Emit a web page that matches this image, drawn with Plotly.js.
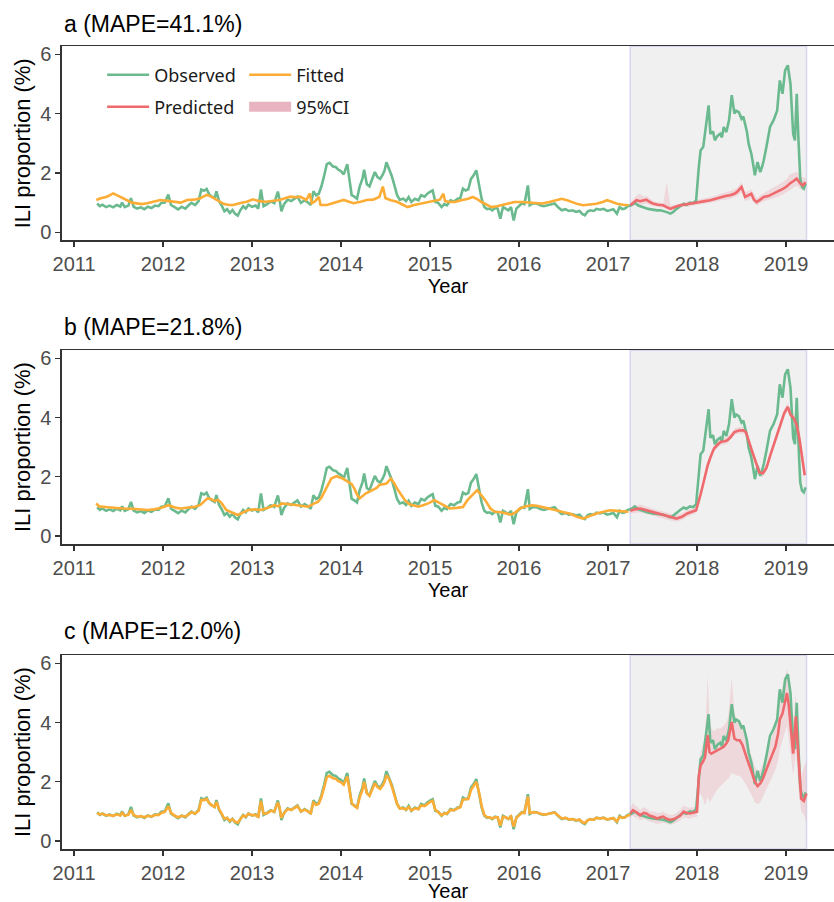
<!DOCTYPE html>
<html><head><meta charset="utf-8">
<script src="https://cdn.plot.ly/plotly-3.0.1.min.js"></script>
<style>body{margin:0;background:#fff}#chart{width:834px;height:902px}</style>
</head><body><div id="chart"></div>
<script>
// ---------- Observed (same in all panels) ----------
const t2011=[2011.26,2011.29,2011.32,2011.36,2011.40,2011.44,2011.48,2011.52,2011.54,2011.57,2011.61,2011.64,2011.67,2011.71,2011.75,2011.79,2011.83,2011.87,2011.91,2011.95,2011.98];
const o2011=[0.97,0.88,0.93,0.85,0.90,0.84,0.92,0.87,1.00,0.85,0.90,1.15,0.86,0.80,0.84,0.78,0.86,0.82,0.90,0.88,0.99];
const t2012=[2012.02,2012.06,2012.09,2012.13,2012.17,2012.21,2012.25,2012.29,2012.32,2012.36,2012.40,2012.43,2012.46,2012.49,2012.52,2012.55,2012.58,2012.60,2012.63,2012.66,2012.69,2012.72,2012.75,2012.78,2012.81,2012.84,2012.87,2012.90,2012.93,2012.96];
const o2012=[1.00,1.27,0.92,0.85,0.77,0.86,0.80,0.92,0.99,0.92,1.05,1.44,1.40,1.46,1.27,1.20,1.15,1.38,1.05,0.90,0.71,0.78,0.65,0.75,0.62,0.56,0.75,0.88,0.80,0.93];
const t2013=[2013.00,2013.04,2013.07,2013.10,2013.13,2013.17,2013.21,2013.25,2013.29,2013.31,2013.33,2013.36,2013.40,2013.44,2013.48,2013.51,2013.55,2013.59,2013.63,2013.66,2013.69,2013.72,2013.75,2013.78,2013.81,2013.84,2013.87,2013.91,2013.94,2013.97];
const o2013=[0.86,0.90,0.80,1.44,0.88,0.95,1.04,0.98,1.37,1.10,0.71,0.95,1.10,1.05,1.15,1.20,0.99,1.08,1.00,0.92,1.38,1.25,1.30,1.55,1.90,2.30,2.34,2.22,2.20,2.11];
const t2014=[2014.00,2014.03,2014.07,2014.10,2014.12,2014.15,2014.18,2014.21,2014.24,2014.26,2014.29,2014.32,2014.35,2014.38,2014.41,2014.44,2014.47,2014.49,2014.51,2014.54,2014.57,2014.60,2014.63,2014.66,2014.70,2014.73,2014.76,2014.79,2014.83,2014.87,2014.90,2014.94,2014.97];
const o2014=[2.06,1.95,2.30,1.70,1.25,1.20,1.13,1.55,1.80,2.11,1.62,1.55,1.80,2.03,1.86,1.80,1.95,2.09,2.36,2.15,1.90,1.58,1.25,1.10,1.13,1.05,1.19,1.02,1.13,1.08,1.25,1.20,1.30];
const t2015=[2015.00,2015.03,2015.06,2015.09,2015.13,2015.16,2015.19,2015.23,2015.27,2015.31,2015.34,2015.37,2015.40,2015.43,2015.46,2015.49,2015.52,2015.55,2015.58,2015.61,2015.64,2015.67,2015.70,2015.73,2015.76,2015.79,2015.82,2015.85,2015.88,2015.91,2015.94,2015.97];
const o2015=[1.36,1.41,1.02,1.00,0.85,0.95,0.91,1.08,1.04,1.13,1.15,1.47,1.41,1.45,1.80,1.92,2.09,1.64,1.13,0.85,0.78,0.80,0.74,0.82,0.80,0.46,0.85,0.80,0.74,0.85,0.40,0.80];
const t2016=[2016.00,2016.03,2016.06,2016.10,2016.12,2016.16,2016.20,2016.24,2016.28,2016.32,2016.36,2016.40,2016.44,2016.48,2016.52,2016.56,2016.60,2016.64,2016.68,2016.71,2016.74,2016.77,2016.80,2016.84,2016.87,2016.91,2016.95,2016.99];
const o2016=[0.88,0.97,0.95,1.58,0.91,0.98,0.97,0.91,0.88,0.91,0.95,0.97,0.84,0.74,0.78,0.72,0.74,0.69,0.72,0.62,0.57,0.70,0.74,0.72,0.79,0.76,0.79,0.72];
const t2017a=[2017.02,2017.06,2017.10,2017.13,2017.16,2017.19,2017.22,2017.25];
const o2017a=[0.74,0.78,0.63,0.85,0.78,0.80,0.88,0.90];
const t2017b=[2017.28,2017.30,2017.34,2017.38,2017.42,2017.45,2017.50,2017.55,2017.59,2017.62,2017.66,2017.70,2017.73,2017.77,2017.81,2017.85,2017.88,2017.92,2017.96,2017.99];
const o2017b=[0.95,1.00,0.90,0.85,0.82,0.79,0.76,0.74,0.74,0.72,0.68,0.63,0.68,0.79,0.88,0.96,0.92,1.00,0.98,1.08];
const t2018=[2018.02,2018.04,2018.07,2018.10,2018.13,2018.15,2018.18,2018.20,2018.23,2018.26,2018.28,2018.30,2018.33,2018.36,2018.39,2018.42,2018.44,2018.47,2018.50,2018.52,2018.54,2018.56,2018.58,2018.61,2018.63,2018.65,2018.68,2018.71,2018.73,2018.75,2018.78,2018.80,2018.82,2018.86,2018.90,2018.93,2018.96,2018.99];
const o2018=[2.20,2.76,2.88,3.66,4.28,3.32,3.40,3.10,3.25,3.32,3.20,3.55,3.38,3.78,4.62,4.00,4.10,4.05,3.83,3.90,3.66,3.40,2.98,2.65,2.30,1.92,2.37,2.03,2.20,2.43,2.88,3.20,3.55,3.78,4.10,5.12,4.67,5.46];
const t2019=[2019.02,2019.05,2019.08,2019.10,2019.12,2019.14,2019.16,2019.18,2019.20,2019.22];
const o2019=[5.63,5.00,3.32,3.10,4.67,3.10,1.80,1.53,1.47,1.64];

// ---------- Panel a: fitted / predicted ----------
const fitAT=[2011.25,2011.30,2011.37,2011.44,2011.48,2011.52,2011.59,2011.65,2011.70,2011.76,2011.82,2011.90,2011.97,
 2012.05,2012.12,2012.20,2012.27,2012.35,2012.42,2012.49,2012.53,2012.57,2012.63,2012.68,2012.74,2012.79,2012.86,2012.94,
 2013.01,2013.08,2013.16,2013.23,2013.31,2013.37,2013.43,2013.50,2013.54,2013.61,2013.65,2013.67,2013.71,2013.75,2013.77,2013.84,2013.91,2013.97,
 2014.03,2014.09,2014.14,2014.22,2014.29,2014.36,2014.43,2014.47,2014.50,2014.56,2014.63,2014.70,2014.75,2014.82,2014.90,2014.97,
 2015.04,2015.11,2015.15,2015.17,2015.22,2015.28,2015.35,2015.43,2015.48,2015.53,2015.58,2015.64,2015.69,2015.75,2015.80,2015.87,2015.95,
 2016.03,2016.10,2016.18,2016.26,2016.34,2016.41,2016.48,2016.54,2016.59,2016.66,2016.72,2016.80,2016.87,2016.94,2016.99,
 2017.05,2017.10,2017.17,2017.23];
const fitAV=[1.09,1.15,1.20,1.31,1.25,1.20,1.09,1.00,0.98,0.95,0.98,1.03,1.09,
 1.06,1.03,1.00,1.09,1.10,1.15,1.26,1.22,1.15,1.05,0.96,0.92,0.92,0.98,1.03,
 1.11,1.05,1.03,1.06,1.09,1.15,1.20,1.18,1.20,1.09,1.31,0.98,1.05,1.20,0.92,0.92,0.98,1.04,
 1.09,1.03,0.98,1.03,1.09,1.10,1.19,1.54,1.15,1.08,1.03,0.92,0.85,0.92,0.97,1.00,
 1.05,1.10,1.30,1.05,1.02,1.02,1.08,1.13,1.19,1.12,1.02,0.92,0.85,0.88,0.91,0.97,1.02,
 1.02,1.00,0.98,0.97,1.02,1.08,1.13,1.08,1.02,0.95,0.91,0.93,0.96,1.02,1.08,
 1.02,0.96,0.93,0.91];
const predAT=[2017.25,2017.29,2017.32,2017.36,2017.40,2017.43,2017.47,2017.51,2017.56,2017.62,2017.66,2017.70,2017.75,2017.81,2017.87,2017.92,2017.98,
 2018.03,2018.09,2018.15,2018.20,2018.26,2018.32,2018.37,2018.42,2018.45,2018.50,2018.54,2018.58,2018.61,2018.64,2018.67,2018.71,2018.75,2018.80,2018.86,2018.91,2018.97,
 2019.01,2019.04,2019.08,2019.12,2019.16,2019.19,2019.22];
const predAV=[0.91,1.00,1.08,1.05,1.08,1.10,1.02,0.96,0.93,0.91,0.85,0.79,0.85,0.91,0.94,0.96,0.99,
 1.02,1.05,1.08,1.12,1.19,1.22,1.25,1.30,1.36,1.53,1.19,1.25,1.30,1.10,1.02,1.10,1.19,1.22,1.30,1.38,1.47,
 1.55,1.64,1.72,1.81,1.64,1.58,1.69];
const predALo=[0.85,0.88,0.92,0.93,0.95,0.98,0.92,0.88,0.85,0.83,0.78,0.72,0.78,0.84,0.86,0.88,0.91,
 0.94,0.96,0.99,1.02,1.08,1.10,1.12,1.18,1.22,1.35,1.05,1.10,1.15,0.98,0.90,0.98,1.05,1.08,1.15,1.20,1.28,
 1.35,1.42,1.50,1.58,1.45,1.42,1.55];
const predAHi=[0.97,1.15,1.25,1.30,1.20,1.22,1.15,1.05,1.02,0.98,1.70,0.90,0.92,0.98,1.02,1.04,1.08,
 1.12,1.15,1.18,1.22,1.30,1.35,1.38,1.45,1.50,1.68,1.35,1.40,1.45,1.30,1.15,1.25,1.32,1.38,1.50,1.60,1.70,
 1.80,1.95,2.00,2.05,1.90,1.85,1.85];

// ---------- Panel b: fitted / predicted ----------
const fitBT=[2011.25,2011.28,2011.35,2011.45,2011.55,2011.65,2011.75,2011.83,2011.90,2011.98,
 2012.06,2012.10,2012.15,2012.20,2012.28,2012.36,2012.42,2012.47,2012.50,2012.54,2012.58,2012.62,2012.66,2012.71,2012.77,2012.84,2012.90,2012.96,
 2013.03,2013.10,2013.18,2013.25,2013.30,2013.33,2013.40,2013.48,2013.55,2013.63,2013.70,2013.74,2013.78,2013.82,2013.86,2013.89,2013.95,
 2014.02,2014.08,2014.12,2014.15,2014.18,2014.21,2014.25,2014.28,2014.32,2014.36,2014.40,2014.43,2014.47,2014.51,2014.56,2014.60,2014.64,2014.68,2014.72,2014.77,2014.82,2014.87,2014.93,2014.98,
 2015.05,2015.10,2015.15,2015.22,2015.30,2015.37,2015.42,2015.47,2015.53,2015.57,2015.62,2015.68,2015.73,2015.80,2015.86,2015.91,2015.96,
 2016.01,2016.07,2016.14,2016.20,2016.27,2016.34,2016.42,2016.50,2016.57,2016.65,2016.72,2016.80,2016.87,2016.95,
 2017.02,2017.10,2017.16,2017.23];
const fitBV=[1.10,1.00,0.98,0.95,0.93,0.92,0.90,0.88,0.90,0.95,
 1.04,1.00,0.95,0.93,0.95,0.99,1.05,1.20,1.27,1.25,1.18,1.22,1.10,0.88,0.80,0.71,0.80,0.88,
 0.90,0.88,0.95,1.04,1.00,1.10,1.08,1.05,1.02,0.99,1.10,1.15,1.30,1.55,1.78,1.94,2.02,
 1.94,1.83,1.75,1.60,1.40,1.27,1.38,1.44,1.50,1.55,1.62,1.72,1.75,1.77,1.94,1.77,1.55,1.38,1.20,1.07,1.02,0.99,1.05,1.10,
 1.21,1.12,1.04,0.93,0.95,0.98,1.21,1.38,1.55,1.40,1.21,0.92,0.82,0.80,0.75,0.72,0.80,
 0.93,1.00,1.04,1.02,0.98,0.93,0.87,0.80,0.76,0.65,0.59,0.68,0.76,0.82,
 0.87,0.85,0.83,0.82];
const predBT=[2017.25,2017.30,2017.36,2017.42,2017.47,2017.55,2017.62,2017.70,2017.77,2017.83,2017.89,2017.95,2017.99,
 2018.04,2018.08,2018.12,2018.15,2018.19,2018.23,2018.27,2018.31,2018.34,2018.38,2018.42,2018.47,2018.52,2018.55,2018.58,2018.62,2018.66,2018.70,2018.74,2018.78,2018.82,2018.86,2018.90,2018.95,2018.98,
 2019.02,2019.05,2019.09,2019.12,2019.15,2019.18,2019.21];
const predBV=[0.85,0.90,0.93,0.88,0.82,0.76,0.71,0.64,0.59,0.65,0.76,0.83,0.87,
 1.40,1.90,2.39,2.65,2.95,3.08,3.18,3.20,3.23,3.35,3.51,3.56,3.57,3.50,3.20,2.85,2.50,2.15,2.12,2.30,2.70,3.07,3.45,3.85,4.15,
 4.36,4.10,3.96,3.75,3.29,2.70,2.05];
const predBLo=[0.75,0.78,0.80,0.76,0.70,0.64,0.59,0.52,0.48,0.54,0.65,0.73,0.77,
 1.28,1.78,2.27,2.53,2.83,2.97,3.07,3.09,3.12,3.24,3.40,3.45,3.46,3.38,3.08,2.73,2.38,2.03,2.00,2.18,2.58,2.95,3.33,3.72,4.02,
 4.22,3.96,3.82,3.60,3.14,2.55,1.90];
const predBHi=[0.96,1.02,1.06,1.00,0.94,0.88,0.83,0.76,0.71,0.77,0.88,0.94,0.98,
 1.52,2.02,2.51,2.77,3.07,3.20,3.30,3.32,3.35,3.47,3.63,3.68,3.69,3.62,3.33,2.98,2.63,2.28,2.25,2.43,2.83,3.20,3.58,3.98,4.29,
 4.50,4.25,4.10,3.90,3.44,2.85,2.20];

// ---------- Panel c: fitted (on observed weeks) / predicted ----------
const fc2011=[0.95,0.90,0.92,0.87,0.88,0.85,0.90,0.86,0.95,0.86,0.88,1.05,0.88,0.82,0.84,0.80,0.85,0.83,0.88,0.88,0.95];
const fc2012=[0.98,1.18,0.95,0.86,0.80,0.85,0.82,0.90,0.97,0.93,1.02,1.38,1.38,1.42,1.28,1.20,1.15,1.32,1.08,0.92,0.75,0.78,0.68,0.74,0.65,0.62,0.74,0.86,0.82,0.92];
const fc2013=[0.87,0.88,0.82,1.35,0.92,0.94,1.02,0.99,1.30,1.12,0.78,0.94,1.08,1.05,1.12,1.18,1.00,1.06,1.00,0.94,1.30,1.22,1.26,1.48,1.80,2.15,2.20,2.12,2.10,2.02];
const fc2014=[1.98,1.90,2.18,1.68,1.28,1.18,1.12,1.48,1.72,2.00,1.62,1.52,1.75,1.95,1.82,1.76,1.88,2.00,2.22,2.10,1.85,1.55,1.25,1.10,1.10,1.06,1.15,1.03,1.10,1.08,1.20,1.18,1.26];
const fc2015=[1.32,1.36,1.05,0.98,0.87,0.93,0.92,1.05,1.04,1.10,1.14,1.40,1.40,1.42,1.72,1.85,2.00,1.65,1.18,0.88,0.80,0.80,0.76,0.80,0.80,0.52,0.82,0.80,0.75,0.83,0.48,0.78];
const fc2016=[0.86,0.95,0.95,1.50,0.95,0.97,0.96,0.92,0.89,0.91,0.94,0.96,0.86,0.76,0.78,0.73,0.74,0.70,0.72,0.64,0.60,0.70,0.73,0.72,0.78,0.76,0.78,0.73];
const fc2017a=[0.75,0.77,0.66,0.82,0.78,0.80,0.86,0.88];
const predCT=[2017.25,2017.28,2017.30,2017.33,2017.36,2017.40,2017.43,2017.47,2017.51,2017.55,2017.59,2017.62,2017.66,2017.70,2017.74,2017.77,2017.81,2017.85,2017.88,2017.92,2017.96,
 2018.00,2018.02,2018.04,2018.07,2018.09,2018.12,2018.14,2018.16,2018.19,2018.22,2018.26,2018.30,2018.33,2018.35,2018.39,2018.42,2018.45,2018.48,2018.51,2018.54,2018.57,2018.60,2018.63,2018.65,2018.68,2018.71,2018.74,2018.76,2018.79,2018.82,2018.85,2018.88,2018.91,2018.93,2018.96,2018.98,
 2019.01,2019.03,2019.05,2019.08,2019.11,2019.14,2019.17,2019.20,2019.23];
const predCV=[0.93,1.04,1.00,0.95,0.87,0.95,0.93,0.85,0.82,0.76,0.80,0.82,0.75,0.71,0.74,0.78,0.85,0.99,0.95,0.93,0.97,
 0.99,2.20,2.55,2.70,2.84,3.57,3.00,2.95,3.00,3.07,3.12,3.18,3.30,3.40,4.02,3.46,3.40,3.40,3.25,3.01,2.70,2.45,2.20,2.00,1.85,1.94,2.10,2.28,2.50,2.73,2.95,3.18,3.60,4.10,4.30,4.55,
 5.00,4.60,3.99,2.95,4.21,2.61,1.43,1.35,1.60];
const predCLo=[0.80,0.85,0.80,0.78,0.70,0.75,0.72,0.65,0.62,0.58,0.60,0.62,0.58,0.55,0.58,0.62,0.68,0.80,0.78,0.76,0.80,
 0.82,1.50,1.60,1.40,1.20,1.50,1.30,1.40,1.55,1.70,1.85,1.95,2.05,2.10,2.30,2.25,2.20,2.20,2.10,1.95,1.80,1.65,1.45,1.30,1.25,1.30,1.45,1.60,1.80,2.00,2.20,2.40,2.70,3.10,3.40,3.60,
 3.90,3.50,3.00,2.20,3.00,1.80,1.00,0.90,0.60];
const predCHi=[1.10,1.30,1.20,1.15,1.05,1.15,1.10,1.00,1.00,0.95,0.95,1.00,0.92,0.88,0.90,0.95,1.05,1.20,1.15,1.12,1.15,
 1.18,2.60,3.00,3.30,3.50,5.60,4.00,3.80,3.70,3.80,3.80,3.90,4.00,4.20,5.50,4.30,4.10,4.05,3.90,3.70,3.30,3.00,2.70,2.50,2.35,2.40,2.60,2.80,3.05,3.30,3.60,3.90,4.40,4.90,5.20,5.40,
 5.80,5.50,5.00,4.00,5.00,3.40,2.20,2.50,2.70];

const years=[2011,2012,2013,2014,2015,2016,2017,2018,2019];
const yTicks=[0,2,4,6];
const panelTitles=['a (MAPE=41.1%)','b (MAPE=21.8%)','c (MAPE=12.0%)'];
const predStart=2017.25, predEnd=2019.23;

// ---------- assemble ----------
const cat=(...a)=>[].concat(...a);
const obsT=cat(t2011,t2012,t2013,t2014,t2015,t2016,t2017a,t2017b,t2018,t2019);
const obsV=cat(o2011,o2012,o2013,o2014,o2015,o2016,o2017a,o2017b,o2018,o2019);
const fitCT=cat(t2011,t2012,t2013,t2014,t2015,t2016,t2017a);
const fitCV=cat(fc2011,fc2012,fc2013,fc2014,fc2015,fc2016,fc2017a);

const W=834,H=902;
const FONT='Liberation Sans, Arial, sans-serif';
const cObs='#6bba8f', cFit='#fdad36', cPred='#ee6a6d', cCI='rgba(232,120,140,0.2)';
const py=p=>1-p/H;

function band(t,lo,hi,ax){
  return {x:t.concat(t.slice().reverse()), y:hi.concat(lo.slice().reverse()), type:'scatter', mode:'lines',
    fill:'toself', fillcolor:cCI, line:{width:0,color:cCI}, hoverinfo:'skip', showlegend:false, xaxis:'x'+ax, yaxis:'y'+ax};
}
function line(t,v,c,ax,name,leg){
  const o={x:t,y:v,type:'scatter',mode:'lines',line:{color:c,width:2.6},name:name,xaxis:'x'+ax,yaxis:'y'+ax,showlegend:!!leg};
  if(leg) o.legend=leg;
  return o;
}
const panels=[
  {ax:'', ft:fitAT, fv:fitAV, pt:predAT, pv:predAV, lo:predALo, hi:predAHi},
  {ax:'2', ft:fitBT, fv:fitBV, pt:predBT, pv:predBV, lo:predBLo, hi:predBHi},
  {ax:'3', ft:fitCT, fv:fitCV, pt:predCT, pv:predCV, lo:predCLo, hi:predCHi}
];
const traces=[];
panels.forEach((p,i)=>{
  traces.push(band(p.pt,p.lo,p.hi,p.ax));
  traces.push(line(obsT,obsV,cObs,p.ax,'Observed',i===0?'legend':null));
  traces.push(line(p.ft,p.fv,cFit,p.ax,'Fitted',i===0?'legend':null));
  traces.push(line(p.pt,p.pv,cPred,p.ax,'Predicted',i===0?'legend2':null));
});
// legend key for the 95% CI band
traces.push({x:[null],y:[null],type:'scatter',mode:'lines',line:{width:20,color:'#e8b4c2'},name:'95%CI',legend:'legend2',xaxis:'x',yaxis:'y'});

const doms=[[py(240.3),py(46.3)],[py(544),py(350.3)],[py(849),py(655.3)]];
const titleY=[24,327,631];
const legFont={family:'Noto Sans, sans-serif',size:18,color:'#1a1a1a'};
const layout={width:W,height:H,margin:{l:62,r:0,t:0,b:0},paper_bgcolor:'#fff',plot_bgcolor:'#fff',
  showlegend:true, shapes:[], annotations:[],
  legend:{x:0.052,y:py(75),xanchor:'left',yanchor:'middle',orientation:'h',bgcolor:'rgba(0,0,0,0)',
    font:legFont,entrywidth:85,traceorder:'normal',itemwidth:42},
  legend2:{x:0.052,y:py(107),xanchor:'left',yanchor:'middle',orientation:'h',bgcolor:'rgba(0,0,0,0)',
    font:legFont,entrywidth:85,traceorder:'normal',itemwidth:42}
};
panels.forEach((p,i)=>{
  const xk='xaxis'+p.ax, yk='yaxis'+p.ax;
  layout[xk]={domain:[0,1],range:[2010.865,2019.539],anchor:'y'+p.ax,tickvals:years,ticktext:years.map(String),
    ticks:'outside',ticklen:5,tickwidth:1.2,tickcolor:'#333',showline:true,linecolor:'#333',linewidth:1.6,mirror:true,
    showgrid:false,zeroline:false,tickfont:{family:FONT,size:20,color:'#4d4d4d'},
    title:{text:'Year',font:{family:FONT,size:20,color:'#000'},standoff:2},fixedrange:true};
  layout[yk]={domain:doms[i],range:[-0.27,6.27],anchor:'x'+p.ax,tickvals:yTicks,ticktext:yTicks.map(String),
    ticks:'outside',ticklen:5,tickwidth:1.2,tickcolor:'#333',showline:true,linecolor:'#333',linewidth:1.6,mirror:false,
    showgrid:false,zeroline:false,tickfont:{family:FONT,size:20,color:'#4d4d4d'},
    title:{text:'ILI proportion (%)',font:{family:FONT,size:22,color:'#000'},standoff:3},fixedrange:true};
  layout.shapes.push({type:'rect',xref:'x'+p.ax,yref:'y'+p.ax+' domain',x0:predStart,x1:predEnd,y0:0,y1:1,
    fillcolor:'#f0f0f0',line:{color:'#d6d6f0',width:1.5},layer:'below'});
  layout.annotations.push({xref:'paper',yref:'paper',x:0,y:py(titleY[i]),xanchor:'left',yanchor:'middle',
    text:panelTitles[i],showarrow:false,font:{family:FONT,size:23,color:'#000'}});
});
Plotly.newPlot('chart',traces,layout,{staticPlot:true,displayModeBar:false});
</script></body></html>
